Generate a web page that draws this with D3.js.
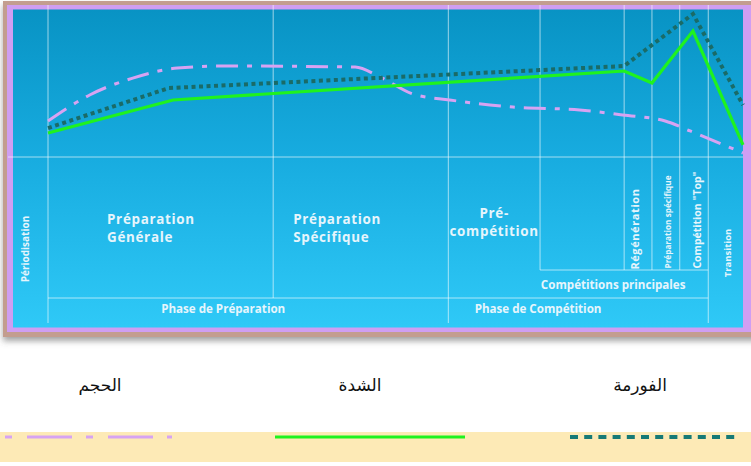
<!DOCTYPE html>
<html>
<head>
<meta charset="utf-8">
<script src="https://cdn.jsdelivr.net/npm/d3@7"></script>
<style>
  html, body { margin: 0; padding: 0; background: #ffffff; }
  svg { display: block; }
</style>
</head>
<body>
<svg id="chart" width="751" height="466"></svg>
<script>
// ---- Season timeline (x in % of the season, y in relative load level 0..100) ----
const seasonBounds = [0, 32.4, 57.6, 70.8, 82.9, 86.9, 90.9, 95.0, 100];

// Volume (dash-dot lilac)
const volumeX = [0, 6.0, 12.2, 18.6, 25.2, 44.2, 47.8, 52.5, 57.8, 66.9, 76.5, 82.7, 88.8, 92.4, 100];
const volumeY = [24.5, 42.2, 53.7, 60.5, 61.9, 61.2, 54.4, 42.9, 38.8, 34.0, 32.0, 28.6, 24.5, 17.7, 2.7];

// Intensity (solid green)
const intensityX = [0, 18.0, 82.9, 86.9, 92.8, 100];
const intensityY = [16.3, 38.8, 58.5, 50.3, 85.7, 8.2];

// Form (dotted dark teal)
const formX = [0, 17.4, 82.9, 92.8, 100];
const formY = [19.7, 46.9, 61.9, 97.3, 35.4];

// Period names
const periodLabel = "Périodisation";
const cycleLabels = [["Préparation", "Générale"], ["Préparation", "Spécifique"], ["Pré-", "compétition"]];
const narrowLabels = ["Régénération", "Préparation spécifique", "Compétition \"Top\"", "Transition"];
const groupLabels = ["Phase de Préparation", "Phase de Compétition", "Compétitions principales"];
const legendLabels = ["الحجم", "الشدة", "الفورمة"];

const svg = d3.select("#chart");
const x = d3.scaleLinear().domain([0, 100]).range([48, 743]);
const y = d3.scaleLinear().domain([0, 100]).range([157, 10]);

const defs = svg.append("defs");
const grad = defs.append("linearGradient").attr("id", "bg").attr("x1", 0).attr("y1", 0).attr("x2", 0).attr("y2", 1);
grad.append("stop").attr("offset", "0%").attr("stop-color", "#0893c4");
grad.append("stop").attr("offset", "45%").attr("stop-color", "#17abdf");
grad.append("stop").attr("offset", "100%").attr("stop-color", "#2fc9f7");
const sh = defs.append("filter").attr("id", "shadow").attr("x", "-5%").attr("y", "-5%").attr("width", "110%").attr("height", "120%");
sh.append("feDropShadow").attr("dx", 0).attr("dy", 4).attr("stdDeviation", 3).attr("flood-color", "#555").attr("flood-opacity", 0.55);

// Frame
svg.append("rect").attr("x", 3).attr("y", 1).attr("width", 770).attr("height", 336)
  .attr("fill", "#c39d8f").attr("filter", "url(#shadow)");
svg.append("rect").attr("x", 7).attr("y", 5).attr("width", 760).attr("height", 327).attr("fill", "#cf9ef2");
svg.append("rect").attr("x", 13).attr("y", 9.5).attr("width", 730).attr("height", 318).attr("fill", "url(#bg)");

// Grid / table structure
const grid = svg.append("g").attr("stroke", "#ffffff").attr("stroke-opacity", 0.6).attr("stroke-width", 1);
const vline = (v, y0, y1) => grid.append("line").attr("x1", x(v)).attr("x2", x(v)).attr("y1", y0).attr("y2", y1);
const hline = (v0, v1, yy) => grid.append("line").attr("x1", v0).attr("x2", v1).attr("y1", yy).attr("y2", yy);

hline(8, 743, y(0));
seasonBounds.slice(0, -1).forEach(b => vline(b, 5, y(0)));
const rowTop = 270, rowPhase = 298, rowEnd = 323;
vline(seasonBounds[0], y(0), rowEnd);
vline(seasonBounds[1], y(0), rowPhase);
vline(seasonBounds[2], y(0), rowEnd);
[3, 4, 5, 6].forEach(i => vline(seasonBounds[i], y(0), rowTop));
vline(seasonBounds[7], y(0), rowEnd);
hline(x(seasonBounds[3]), x(seasonBounds[7]), rowTop);
hline(x(seasonBounds[0]), x(seasonBounds[7]), rowPhase);

// Curves
const line = d3.line().x(d => x(d[0])).y(d => y(d[1]));
const zip = (a, b) => a.map((v, i) => [v, b[i]]);

svg.append("path").datum(zip(volumeX, volumeY))
  .attr("d", line.curve(d3.curveMonotoneX))
  .attr("fill", "none").attr("stroke", "#d7a3f2").attr("stroke-width", 3)
  .attr("stroke-dasharray", "22,9,5,9");
svg.append("path").datum(zip(formX, formY))
  .attr("d", line.curve(d3.curveLinear))
  .attr("fill", "none").attr("stroke", "#1a6b67").attr("stroke-width", 4)
  .attr("stroke-dasharray", "4,3.5");
svg.append("path").datum(zip(intensityX, intensityY))
  .attr("d", line.curve(d3.curveLinear))
  .attr("fill", "none").attr("stroke", "#1ff21f").attr("stroke-width", 3.2)
  .attr("stroke-linejoin", "miter");

// Labels
const txt = svg.append("g").attr("fill", "#e6f5fc").attr("font-family", "'Open Sans', sans-serif").attr("font-weight", 700);

txt.append("text").attr("transform", `translate(29,249) rotate(-90)`)
  .attr("text-anchor", "middle").attr("font-size", 10).text(periodLabel);

// Two-line cycle names, one text element per line
const cyclePos = [
  { x: x(seasonBounds[0]) + 59, y: 224, anchor: "start" },
  { x: x(seasonBounds[1]) + 20, y: 224, anchor: "start" },
  { x: (x(seasonBounds[2]) + x(seasonBounds[3])) / 2, y: 218, anchor: "middle" }
];
cycleLabels.forEach((lines, i) => {
  const p = cyclePos[i];
  lines.forEach((s, j) => {
    txt.append("text").attr("x", p.x).attr("y", p.y + j * 18)
      .attr("text-anchor", p.anchor).attr("font-size", 13.4)
      .attr("letter-spacing", 0.7).text(s);
  });
});

const narrowCenters = [
  [(x(seasonBounds[4]) + x(seasonBounds[5])) / 2 - 3, 229, 11, 0.6],
  [(x(seasonBounds[5]) + x(seasonBounds[6])) / 2 + 2, 222, 8.2, 0],
  [(x(seasonBounds[6]) + x(seasonBounds[7])) / 2 + 3, 220, 10.5, 0],
  [(x(seasonBounds[7]) + x(seasonBounds[8])) / 2 + 2, 253, 9.5, 0]
];
narrowLabels.forEach((s, i) => {
  const [cx, cy, fs, ls] = narrowCenters[i];
  txt.append("text").attr("transform", `translate(${cx},${cy}) rotate(-90)`)
    .attr("text-anchor", "middle").attr("dy", "0.35em").attr("font-size", fs)
    .attr("letter-spacing", ls).text(s);
});

txt.append("text").attr("x", x(seasonBounds[1]) - 50).attr("y", 313)
  .attr("text-anchor", "middle").attr("font-size", 11.6).text(groupLabels[0]);
txt.append("text").attr("x", x(seasonBounds[3]) - 2).attr("y", 313)
  .attr("text-anchor", "middle").attr("font-size", 11.6).text(groupLabels[1]);
txt.append("text").attr("x", (x(seasonBounds[3]) + x(seasonBounds[7])) / 2 - 11).attr("y", 289)
  .attr("text-anchor", "middle").attr("font-size", 11.6).text(groupLabels[2]);

// Legend
const legendX = [100, 360, 640];
svg.selectAll("text.leg").data(legendLabels).join("text").attr("class", "leg")
  .attr("x", (d, i) => legendX[i]).attr("y", 391).attr("text-anchor", "middle")
  .attr("font-family", "'DejaVu Sans', sans-serif").attr("font-size", 17).attr("fill", "#111")
  .text(d => d);

svg.append("rect").attr("x", 0).attr("y", 432).attr("width", 751).attr("height", 30).attr("fill", "#fdeab6");
const swatches = [
  { x0: 5, x1: 172, color: "#d7a3f2", dash: "7,15,45,14", w: 3 },
  { x0: 275, x1: 465, color: "#1ff21f", dash: null, w: 3 },
  { x0: 570, x1: 736, color: "#177a76", dash: "8,6.2", w: 4 }
];
svg.selectAll("line.sw").data(swatches).join("line").attr("class", "sw")
  .attr("x1", d => d.x0).attr("x2", d => d.x1).attr("y1", 437).attr("y2", 437)
  .attr("stroke", d => d.color).attr("stroke-width", d => d.w)
  .attr("stroke-dasharray", d => d.dash);
</script>
</body>
</html>
